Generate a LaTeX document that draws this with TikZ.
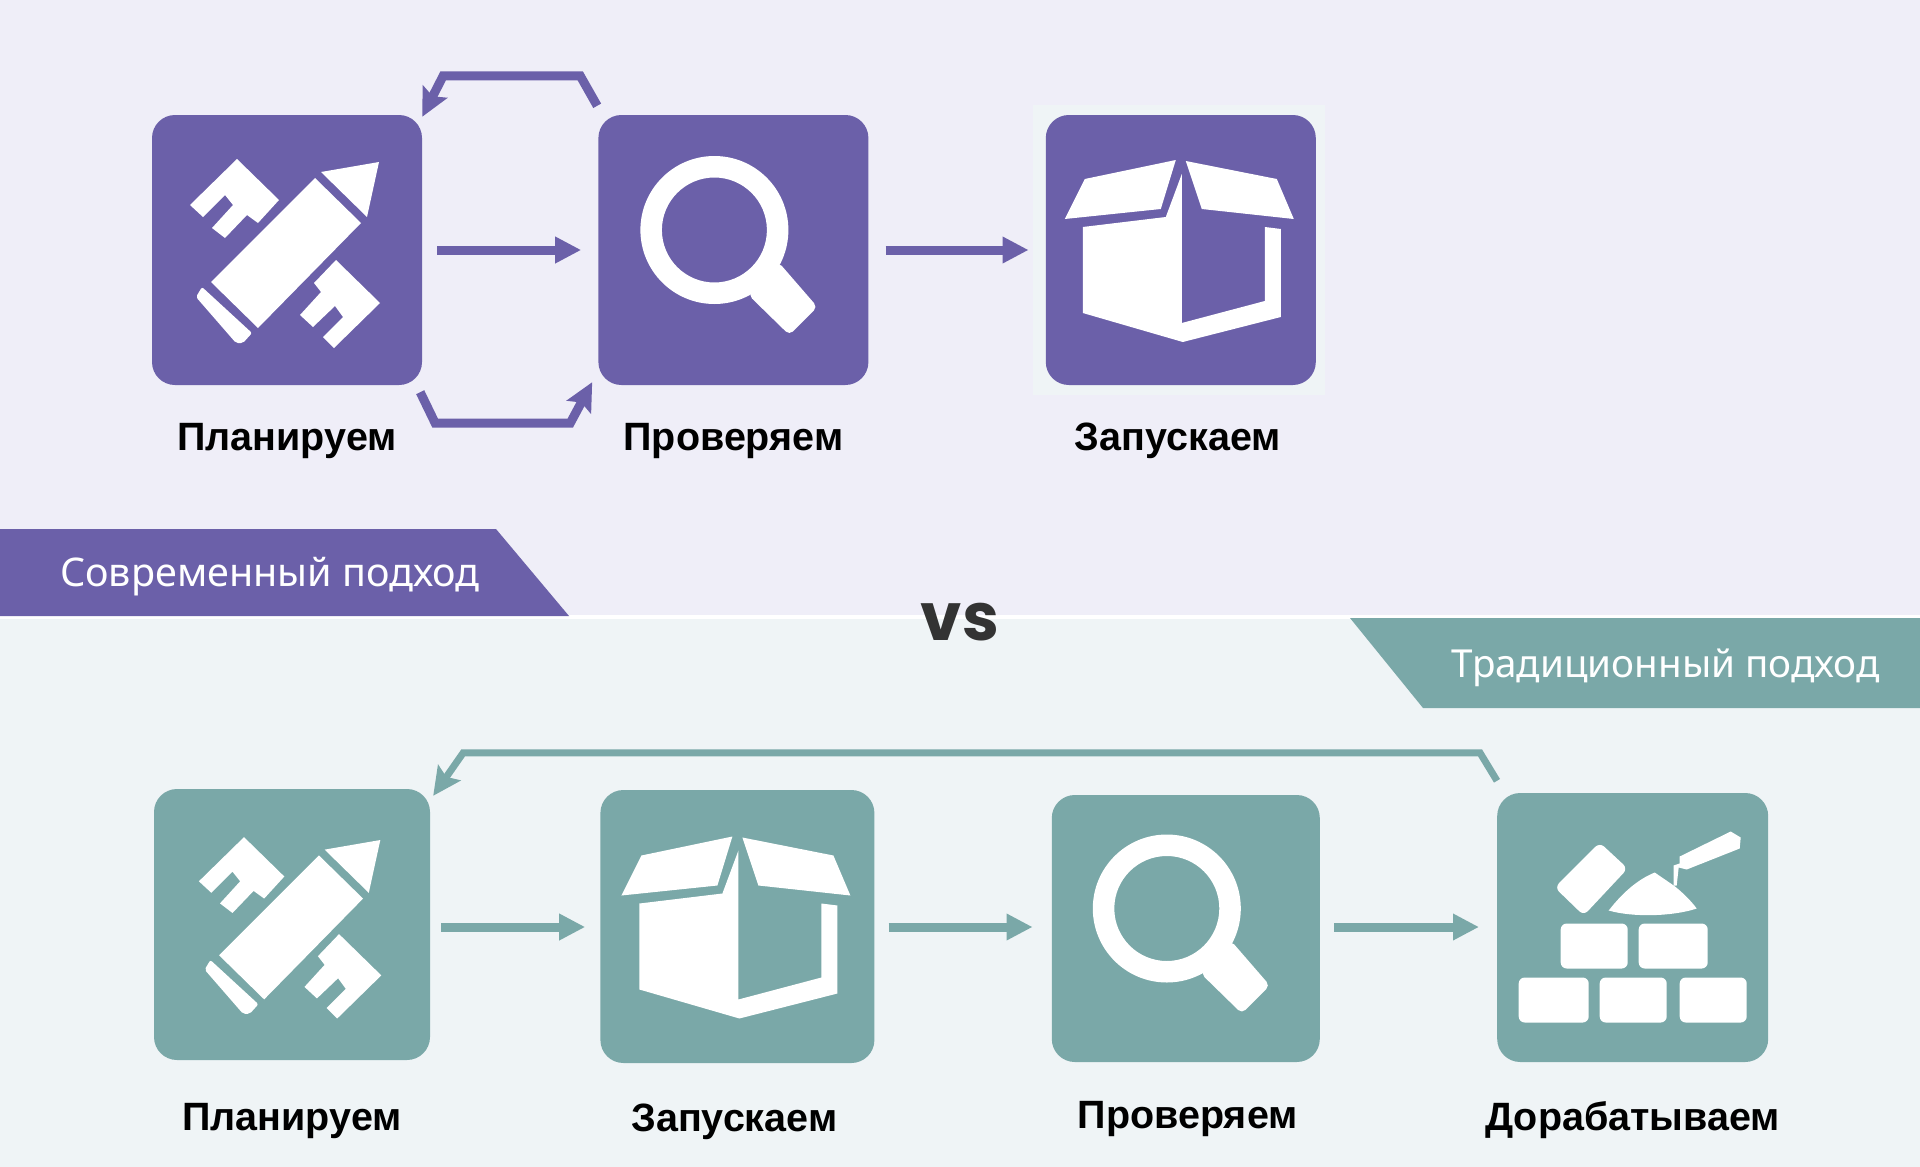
\documentclass[tikz,border=0pt]{standalone}
\usepackage{fontspec}
\setmainfont{Noto Sans}[BoldFont=Liberation Sans Bold]
\newfontfamily\vsfont{Poppins}
\usetikzlibrary{positioning,arrows.meta}
\definecolor{modernbg}{HTML}{EFEEF8}
\definecolor{tradbg}{HTML}{EFF4F6}
\definecolor{modern}{HTML}{6B60A9}
\definecolor{trad}{HTML}{7AA8A8}
\tikzset{
  iconbox/.style={rectangle,rounded corners=23pt,inner sep=0pt,minimum width=270pt,minimum height=270pt},
  caption/.style={inner sep=0pt,text height=27pt,text depth=8pt,font=\fontsize{39.5}{39.5}\selectfont\bfseries},
  tabtext/.style={inner sep=0pt,text=white,font=\fontsize{39.5}{39.5}\selectfont},
  flow/.style={-{Triangle[length=26pt,width=25pt]},line width=9pt},
  loopflow/.style={-{Stealth[length=28pt,width=27pt,inset=5pt]},line width=9pt,line join=miter},
  pencilicon/.pic={
    \fill[white] (28,-72) -- (74,-27) -- (-29,78) -- (-76,32) -- cycle;
    \fill[white] (34,-78) -- (92,-88) -- (80,-33) -- cycle;
    \fill[white,rounded corners=2pt] (-85,37) -- (-35,83) -- (-44,93) -- (-51,93) -- (-91,47) -- cycle;
    \fill[white] (-50,-91) -- (-8,-50) -- (-29,-27) -- (-40,-35) -- (-62,-12) -- (-75,-22) -- (-54,-45) -- (-62,-55) -- (-84,-33) -- (-97,-45) -- cycle;
    \fill[white] (49,10) -- (93,53) -- (47,98) -- (36,87) -- (56,67) -- (48,56) -- (26,77) -- (13,65) -- (34,42) -- (27,33) -- cycle;
  },
  lensicon/.pic={
    \fill[white,even odd rule] (-19,-20) circle[radius=74] (-19,-20) circle[radius=52.5];
    \fill[white,rounded corners=5pt] (45,12) -- (84,57) -- (56,85) -- (15,45) -- cycle;
  },
  boxicon/.pic={
    \fill[white] (-96,-71) -- (-5,-90) -- (-20,-41) -- (-116,-31) -- cycle;
    \fill[white] (5,-89) -- (96,-71) -- (113,-31) -- (21,-41) -- cycle;
    \fill[white] (-98,-23) -- (-15,-33) -- (1,-76) -- (1,73) -- (84,51) -- (84,-23) -- (100,-21) -- (100,67) -- (2,92) -- (-98,63) -- cycle;
  },
  wallicon/.pic={
    \fill[white,rounded corners=6pt] (-114,50) rectangle (-44,95);
    \fill[white,rounded corners=6pt] (-33,50) rectangle (34,95);
    \fill[white,rounded corners=6pt] (47,50) rectangle (114,95);
    \fill[white,rounded corners=6pt] (-72,-4) rectangle (-5,41);
    \fill[white,rounded corners=6pt] (6,-4) rectangle (75,41);
    \fill[white,rounded corners=6pt] (-33,-85) -- (-5,-59) -- (-49,-12) -- (-78,-40) -- cycle;
    \fill[white] (-24,-17) .. controls (-10,-35) and (5,-48) .. (22,-55) -- (41,-42) .. controls (50,-35) and (58,-27) .. (64,-19) .. controls (40,-11) and (0,-10) .. (-24,-17) -- cycle;
    \fill[white] (41,-42) -- (41,-62) -- (47,-64) -- (47,-71) -- (98,-96) -- (108,-90) -- (107,-79) -- (54,-58) -- (46,-60) -- (44,-42) -- cycle;
  }
}
\begin{document}
\begin{tikzpicture}[x=1pt,y=-1pt]
  \useasboundingbox (0,0) rectangle (1920,1167);
  \fill[white] (0,0) rectangle (1920,1167);
  \fill[modernbg] (0,0) rectangle (1920,615);
  \fill[tradbg] (0,619) rectangle (1920,1167);
  \fill[tradbg] (1033,105) rectangle (1325,395);

  \fill[modern] (0,529) -- (496,529) -- (569,616) -- (0,616) -- cycle;
  \fill[trad] (1350,618) -- (1920,618) -- (1920,708) -- (1423,708) -- cycle;
  \node[tabtext,anchor=west] (modernlabel) at (60,577) {Современный подход};
  \node[tabtext,anchor=east,font=\fontsize{38.6}{38.6}\selectfont] (tradlabel) at (1880,668) {Традиционный подход};
  \node[inner sep=0pt,text=black!80,font=\fontsize{66}{66}\selectfont\vsfont\bfseries] (vs) at (960,622) {vs};

  \node[iconbox,fill=modern] (planA) at (287,250) {};
  \node[iconbox,fill=modern,right=176pt of planA] (checkA) {};
  \node[iconbox,fill=modern,right=177pt of checkA] (launchA) {};

  \pic at (planA.center) {pencilicon};
  \pic at (checkA.center) {lensicon};
  \pic at (launchA.center) {boxicon};

  \node[caption,below=38pt of planA] (planAtext) {Планируем};
  \node[caption,below=38pt of checkA] (checkAtext) {Проверяем};
  \node[caption,below=38pt of launchA,xshift=-3pt] (launchAtext) {Запускаем};

  \draw[flow,modern] ([xshift=15pt]planA.east)--([xshift=-17pt]checkA.west);
  \draw[flow,modern] ([xshift=17pt]checkA.east)--([xshift=-17pt]launchA.west);
  \draw[loopflow,modern] ([xshift=-1pt,yshift=9pt]checkA.north west)--([xshift=-18pt,yshift=39pt]checkA.north west)--([xshift=21pt,yshift=39pt]planA.north east)--([yshift=-2pt]planA.north east);
  \draw[loopflow,modern] ([xshift=-2pt,yshift=-7pt]planA.south east)--([xshift=13pt,yshift=-38pt]planA.south east)--([xshift=-28pt,yshift=-38pt]checkA.south west)--([xshift=-6pt,yshift=3pt]checkA.south west);

  \node[iconbox,fill=trad,minimum width=276pt,minimum height=271pt] (planB) at (292,924.5) {};
  \node[iconbox,fill=trad,minimum width=274pt,minimum height=273pt,right=170pt of planB,yshift=-2pt] (launchB) {};
  \node[iconbox,fill=trad,minimum width=268pt,minimum height=267pt,right=177pt of launchB,yshift=-2pt] (checkB) {};
  \node[iconbox,fill=trad,minimum width=271pt,minimum height=269pt,right=177pt of checkB,yshift=1pt] (buildB) {};

  \pic[scale=0.96] at (planB.center) {pencilicon};
  \pic at (launchB.center) {boxicon};
  \pic at (checkB.center) {lensicon};
  \pic at (buildB.center) {wallicon};

  \node[caption,below=43pt of planB] (planBtext) {Планируем};
  \node[caption,below=41pt of launchB,xshift=-3pt] (launchBtext) {Запускаем};
  \node[caption,below=39pt of checkB,xshift=2pt] (checkBtext) {Проверяем};
  \node[caption,below=41pt of buildB] (buildBtext) {Дорабатываем};

  \draw[flow,trad] ([xshift=11pt,yshift=-2.5pt]planB.east)--([xshift=-15pt,yshift=-0.5pt]launchB.west);
  \draw[flow,trad] ([xshift=14pt,yshift=-0.5pt]launchB.east)--([xshift=-19pt,yshift=1.5pt]checkB.west);
  \draw[flow,trad] ([xshift=14pt,yshift=1.5pt]checkB.east)--([xshift=-18pt,yshift=0.5pt]buildB.west);
  \draw[loopflow,trad,line width=7pt] ([yshift=12pt]buildB.north west)--([xshift=-17pt,yshift=40pt]buildB.north west)--([xshift=33pt,yshift=36pt]planB.north east)--([xshift=3pt,yshift=-7pt]planB.north east);
\end{tikzpicture}
\end{document}
